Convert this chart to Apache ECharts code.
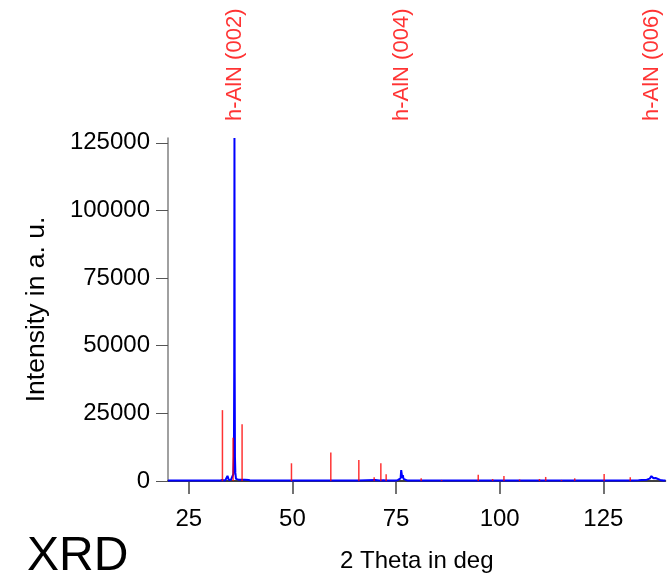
<!DOCTYPE html>
<html>
<head>
<meta charset="utf-8">
<script src="https://cdn.jsdelivr.net/npm/echarts@6/dist/echarts.min.js"></script>
<style>
  html, body { margin: 0; padding: 0; background: #fff; }
  #chart { width: 671px; height: 579px; }
</style>
</head>
<body>
<div id="chart"></div>
<script>
// measured pattern (blue)
var scanTheta = [20, 32.5, 33.0, 33.4, 33.8, 34.2, 34.35, 34.5, 34.65, 35.2, 35.5, 35.75, 35.9, 35.97, 36.03, 36.09, 36.15, 36.25, 36.4, 37.0, 38.5, 39.5, 40.0,
    66.0, 66.3, 70.0, 71.0, 72.0, 72.5, 75.0, 75.5, 76.1, 76.25, 76.35, 76.5, 76.65, 76.8, 77.2, 77.8,
    132.0, 133.5, 134.3, 135.5, 136.2, 136.6, 136.85, 137.1, 137.35, 137.6, 137.9, 138.7, 139.5, 140];
var scanCounts = [150, 150, 350, 350, 200, 300, 1900, 1700, 400, 500, 900, 2500, 9000, 40000, 126800, 40000, 9000, 3000, 800, 500, 500, 350, 150,
    150, 400, 400, 200, 250, 150, 150, 400, 1000, 4000, 3800, 1200, 2200, 800, 400, 150,
    150, 300, 400, 500, 900, 1800, 1850, 1000, 1000, 1100, 600, 400, 200, 150];

// reference pattern sticks (red)
var refTheta = [33.13, 35.7, 37.87, 49.78, 59.27, 66.03, 69.73, 71.34, 72.62, 81.07, 85.99, 94.83, 98.3, 101.03, 104.8, 109.6, 111.1, 114.9, 118.1, 125.2, 131.5];
var refCounts = [26200, 16000, 21000, 6550, 10500, 7800, 1400, 6550, 2500, 1000, 400, 2350, 750, 1850, 600, 750, 1500, 400, 1000, 2600, 1400];

// peak labels
var peakTheta = [36.03, 76.35, 136.8];
var peakNames = ["h-AlN (002)", "h-AlN (004)", "h-AlN (006)"];

var xTicks = [25, 50, 75, 100, 125];
var yTicks = [0, 25000, 50000, 75000, 100000, 125000];
var yMax = 126800;

var font = "'Liberation Sans', Arial, sans-serif";

var scanData = scanTheta.map(function (t, i) { return [t, scanCounts[i]]; });
var refData = refTheta.map(function (t, i) { return [t, refCounts[i]]; });
var labelData = peakTheta.map(function (t, i) { return { value: [t, yMax], name: peakNames[i] }; });

var chart = echarts.init(document.getElementById("chart"));
chart.setOption({
    animation: false,
    backgroundColor: "#fff",
    grid: { left: 168, right: 5.5, top: 138, bottom: 98, containLabel: false },
    xAxis: {
        type: "value", min: 20, max: 140,
        name: "2 Theta in deg", nameLocation: "middle", nameGap: 68,
        nameTextStyle: { fontFamily: font, fontSize: 24, color: "#000" },
        axisLine: { lineStyle: { color: "#000", width: 1.5 } },
        axisTick: { length: 13, lineStyle: { color: "#444", width: 1.5 }, customValues: xTicks },
        axisLabel: { fontFamily: font, fontSize: 24, color: "#000", margin: 26, customValues: xTicks },
        splitLine: { show: false }
    },
    yAxis: {
        type: "value", min: 0, max: yMax,
        name: "Intensity in a. u.", nameLocation: "middle", nameGap: 118,
        nameTextStyle: { fontFamily: font, fontSize: 26.5, color: "#000" },
        axisLine: { show: true, lineStyle: { color: "#808080", width: 1.5 } },
        axisTick: { show: true, length: 12, lineStyle: { color: "#555", width: 1 }, customValues: yTicks },
        axisLabel: {
            fontFamily: font, fontSize: 24, color: "#000", margin: 18, customValues: yTicks,
            formatter: function (v) { return String(v); }
        },
        splitLine: { show: false }
    },
    graphic: [{
        type: "text", left: 27, top: 533,
        style: { text: "XRD", font: "48px " + font, fill: "#000" }
    }],
    series: [
        {
            type: "line", data: scanData, showSymbol: false, symbol: "none",
            lineStyle: { color: "#0000ff", width: 2 }, z: 2
        },
        {
            type: "custom", data: refData, z: 3,
            renderItem: function (params, api) {
                var p0 = api.coord([api.value(0), 0]);
                var p1 = api.coord([api.value(0), api.value(1)]);
                return {
                    type: "line",
                    shape: { x1: p0[0], y1: p0[1], x2: p1[0], y2: p1[1] },
                    style: { stroke: "rgba(255,0,0,0.8)", lineWidth: 1.5 }
                };
            }
        },
        {
            type: "scatter", data: labelData, symbolSize: 0, z: 4, clip: false,
            label: {
                show: true, position: "top", distance: 17, rotate: 90,
                align: "left", verticalAlign: "middle",
                formatter: "{b}", fontFamily: font, fontSize: 22, color: "#ff0000"
            }
        }
    ]
});
</script>
</body>
</html>
